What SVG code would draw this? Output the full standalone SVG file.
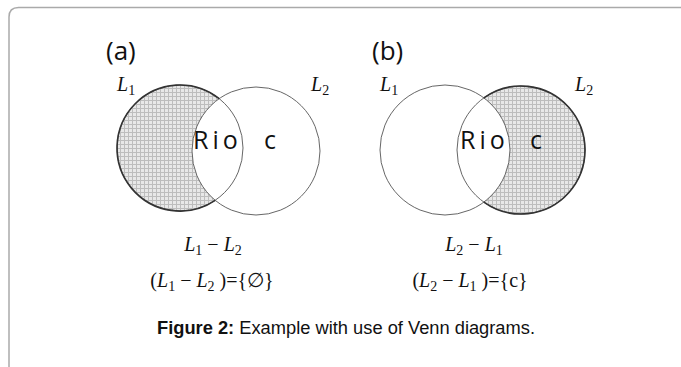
<svg xmlns="http://www.w3.org/2000/svg" width="681" height="367" viewBox="0 0 681 367">
<style>
.lbl{font-family:"Open Sans","Noto Sans",sans-serif;font-size:26px;fill:#111}
.rio{font-family:"Open Sans","Noto Sans",sans-serif;font-size:25px;fill:#111;letter-spacing:4px}
.m{font-family:"Liberation Serif","DejaVu Serif",serif;font-size:20px;fill:#111}
.it{font-style:italic}
.sub{font-size:14px}
.cap{font-family:"Liberation Sans",Arial,sans-serif;font-size:18.3px;fill:#111}
.c{fill:none;stroke:#555;stroke-width:0.9}
.cs{fill:none;stroke:#333;stroke-width:1.6}
</style>
<defs>
<pattern id="hatch" width="4" height="4" patternUnits="userSpaceOnUse">
<rect width="4" height="4" fill="#e8e8e8"/>
<path d="M0,0.5H4M0.5,0V4" stroke="#bdbdbd" stroke-width="1"/>
</pattern>
</defs>
<rect width="681" height="367" fill="#fff"/>
<path d="M9,367 V17 Q9,7.5 18.5,7.5 H681" fill="none" stroke="#aaa" stroke-width="1.5"/>

<g id="diagram-a">
<text class="lbl" x="106" y="60">(a)</text>
<circle cx="180" cy="148" r="63" fill="url(#hatch)"/>
<circle cx="256" cy="151" r="64" fill="#fff"/>
<circle cx="180" cy="148" r="63" class="c"/>
<circle cx="256" cy="151" r="64" class="c"/>
<path d="M219.2,98.7 A63,63 0 1 0 215.2,200.3" class="cs"/>
<text class="rio" x="193" y="149">Rio</text>
<text class="rio" x="264" y="149">c</text>
<text class="m it" x="117" y="91">L<tspan class="sub" font-style="normal" dy="4">1</tspan></text>
<text class="m it" x="311" y="91">L<tspan class="sub" font-style="normal" dy="4">2</tspan></text>
</g>

<g id="diagram-b">
<text class="lbl" x="372" y="60">(b)</text>
<circle cx="521" cy="150" r="64" fill="url(#hatch)"/>
<circle cx="445" cy="150" r="65" fill="#fff"/>
<circle cx="521" cy="150" r="64" class="c"/>
<circle cx="445" cy="150" r="65" class="c"/>
<path d="M483.85,97.9 A64,64 0 1 1 483.85,202.1" class="cs"/>
<text class="rio" x="460" y="149">Rio</text>
<text class="rio" x="530" y="149">c</text>
<text class="m it" x="380" y="91">L<tspan class="sub" font-style="normal" dy="4">1</tspan></text>
<text class="m it" x="575" y="91">L<tspan class="sub" font-style="normal" dy="4">2</tspan></text>
</g>

<g id="formulas">
<text class="m" x="213" y="251" text-anchor="middle"><tspan class="it">L</tspan><tspan class="sub" dy="4">1</tspan><tspan dy="-4"> − </tspan><tspan class="it">L</tspan><tspan class="sub" dy="4">2</tspan></text>
<text class="m" x="212" y="287" text-anchor="middle">(<tspan class="it">L</tspan><tspan class="sub" dy="4">1</tspan><tspan dy="-4"> − </tspan><tspan class="it">L</tspan><tspan class="sub" dy="4">2</tspan><tspan dy="-4"> )={∅}</tspan></text>
<text class="m" x="474" y="251" text-anchor="middle"><tspan class="it">L</tspan><tspan class="sub" dy="4">2</tspan><tspan dy="-4"> − </tspan><tspan class="it">L</tspan><tspan class="sub" dy="4">1</tspan></text>
<text class="m" x="470" y="287" text-anchor="middle">(<tspan class="it">L</tspan><tspan class="sub" dy="4">2</tspan><tspan dy="-4"> − </tspan><tspan class="it">L</tspan><tspan class="sub" dy="4">1</tspan><tspan dy="-4"> )={c}</tspan></text>
</g>

<text class="cap" x="346" y="334" text-anchor="middle"><tspan font-weight="bold">Figure 2:</tspan> Example with use of Venn diagrams.</text>
</svg>
